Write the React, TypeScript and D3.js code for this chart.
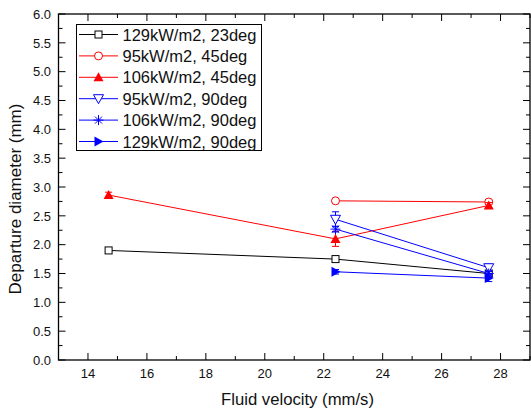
import { useEffect, useRef } from 'react';
import * as d3 from 'd3';

// values
const velocities = [14.7, 22.4, 27.6];
const xTicks = [14, 16, 18, 20, 22, 24, 26, 28];
const yTicks = [0, 0.5, 1, 1.5, 2, 2.5, 3, 3.5, 4, 4.5, 5, 5.5, 6];

const seriesNames = [
  '129kW/m2, 23deg',
  '95kW/m2, 45deg',
  '106kW/m2, 45deg',
  '95kW/m2, 90deg',
  '106kW/m2, 90deg',
  '129kW/m2, 90deg',
];
const seriesColors = ['#000000', '#ff0000', '#ff0000', '#0000ff', '#0000ff', '#0000ff'];
const seriesSymbols = ['square', 'circle', 'triUp', 'triDown', 'star', 'triRight'];

const d129_23 = [1.9, 1.75, 1.5];
const d95_45 = [null, 2.76, 2.74];
const d106_45 = [2.86, 2.1, 2.68];
const d95_90 = [null, 2.44, 1.6];
const d106_90 = [null, 2.27, 1.5];
const d129_90 = [null, 1.53, 1.42];
const seriesValues = [d129_23, d95_45, d106_45, d95_90, d106_90, d129_90];

const e129_23 = [0.03, 0.03, 0.03];
const e95_45 = [0, 0.04, 0.03];
const e106_45 = [0.05, 0.13, 0.05];
const e95_90 = [0, 0.13, 0.06];
const e106_90 = [0, 0.05, 0.04];
const e129_90 = [0, 0.04, 0.06];
const seriesErrors = [e129_23, e95_45, e106_45, e95_90, e106_90, e129_90];

const W = 531;
const H = 411;
const FONT = 'Liberation Sans, Arial, sans-serif';

function drawMarker(g, sym, cx, cy, color) {
  if (sym === 'square') {
    g.append('rect').attr('x', cx - 3.5).attr('y', cy - 3.5).attr('width', 7).attr('height', 7)
      .attr('fill', 'white').attr('stroke', color).attr('stroke-width', 1);
  } else if (sym === 'circle') {
    g.append('circle').attr('cx', cx).attr('cy', cy).attr('r', 4)
      .attr('fill', 'white').attr('stroke', color).attr('stroke-width', 1);
  } else if (sym === 'triUp') {
    g.append('path').attr('d', `M${cx},${cy - 5}L${cx + 5},${cy + 4}L${cx - 5},${cy + 4}Z`).attr('fill', color);
  } else if (sym === 'triDown') {
    g.append('path').attr('d', `M${cx - 5},${cy - 4}L${cx + 5},${cy - 4}L${cx},${cy + 5}Z`)
      .attr('fill', 'white').attr('stroke', color).attr('stroke-width', 1);
  } else if (sym === 'star') {
    const r = 5;
    g.append('path')
      .attr('d', `M${cx - r},${cy}L${cx + r},${cy}M${cx - r * 0.7},${cy - r * 0.7}L${cx + r * 0.7},${cy + r * 0.7}M${cx - r * 0.7},${cy + r * 0.7}L${cx + r * 0.7},${cy - r * 0.7}M${cx},${cy - r}L${cx},${cy + r}`)
      .attr('stroke', color).attr('stroke-width', 1).attr('fill', 'none');
  } else if (sym === 'triRight') {
    g.append('path').attr('d', `M${cx - 4},${cy - 5}L${cx + 5},${cy}L${cx - 4},${cy + 5}Z`).attr('fill', color);
  }
}

export default function App() {
  const svgRef = useRef(null);

  useEffect(() => {
    const svg = d3.select(svgRef.current);
    svg.selectAll('*').remove();

    const x = d3.scaleLinear().domain([13, 29]).range([58.5, 530]);
    const y = d3.scaleLinear().domain([0, 6]).range([360, 14]);

    svg.append('rect').attr('width', W).attr('height', H).attr('fill', 'white');

    const axes = svg.append('g').attr('stroke', 'black').attr('stroke-width', 1);
    // frame
    axes.append('rect').attr('x', x(13)).attr('y', y(6)).attr('width', x(29) - x(13)).attr('height', y(0) - y(6))
      .attr('fill', 'none').attr('stroke-width', 1.3);

    // x ticks (inward, bottom and top)
    d3.range(13, 29.01, 1).forEach((v) => {
      const major = v % 2 === 0;
      const len = major ? 7 : 4;
      axes.append('line').attr('x1', x(v)).attr('x2', x(v)).attr('y1', y(0)).attr('y2', y(0) - len);
      axes.append('line').attr('x1', x(v)).attr('x2', x(v)).attr('y1', y(6)).attr('y2', y(6) + len);
    });
    // y ticks (inward, left and right)
    d3.range(0, 6.01, 0.25).forEach((v) => {
      const major = Math.abs((v * 2) - Math.round(v * 2)) < 1e-6;
      const len = major ? 7 : 4;
      axes.append('line').attr('x1', x(13)).attr('x2', x(13) + len).attr('y1', y(v)).attr('y2', y(v));
      axes.append('line').attr('x1', x(29)).attr('x2', x(29) - len).attr('y1', y(v)).attr('y2', y(v));
    });

    const labels = svg.append('g').attr('font-family', FONT).attr('fill', '#111');
    xTicks.forEach((v) => {
      labels.append('text').attr('x', x(v)).attr('y', 378).attr('text-anchor', 'middle')
        .attr('font-size', 13).text(v);
    });
    yTicks.forEach((v) => {
      labels.append('text').attr('x', 51).attr('y', y(v) + 4.7).attr('text-anchor', 'end')
        .attr('font-size', 13).text(d3.format('.1f')(v));
    });
    labels.append('text').attr('x', 297.5).attr('y', 405).attr('text-anchor', 'middle')
      .attr('font-size', 16.7).text('Fluid velocity (mm/s)');
    labels.append('text').attr('transform', 'translate(21,199) rotate(-90)').attr('text-anchor', 'middle')
      .attr('font-size', 17).text('Departure diameter (mm)');

    // series
    seriesValues.forEach((vals, i) => {
      const pts = velocities.map((v, j) => ({ v, d: vals[j], e: seriesErrors[i][j] })).filter((p) => p.d != null);
      const color = seriesColors[i];
      const g = svg.append('g');
      const line = d3.line().x((p) => x(p.v)).y((p) => y(p.d));
      g.append('path').attr('d', line(pts)).attr('fill', 'none').attr('stroke', color).attr('stroke-width', 1);
      pts.forEach((p) => {
        if (p.e > 0) {
          const cx = x(p.v);
          g.append('line').attr('x1', cx).attr('x2', cx).attr('y1', y(p.d - p.e)).attr('y2', y(p.d + p.e)).attr('stroke', color);
          [p.d - p.e, p.d + p.e].forEach((ev) => {
            g.append('line').attr('x1', cx - 3.5).attr('x2', cx + 3.5).attr('y1', y(ev)).attr('y2', y(ev)).attr('stroke', color);
          });
        }
      });
      pts.forEach((p) => drawMarker(g, seriesSymbols[i], x(p.v), y(p.d), color));
    });

    // legend
    const lg = svg.append('g');
    lg.append('rect').attr('x', 76.5).attr('y', 24.5).attr('width', 185).attr('height', 126)
      .attr('fill', 'white').attr('stroke', 'black').attr('stroke-width', 1);
    seriesNames.forEach((name, i) => {
      const ry = 34.5 + i * 21.4;
      lg.append('line').attr('x1', 79).attr('x2', 118).attr('y1', ry).attr('y2', ry)
        .attr('stroke', seriesColors[i]).attr('stroke-width', 1);
      drawMarker(lg, seriesSymbols[i], 98.5, ry, seriesColors[i]);
      lg.append('text').attr('x', 122.5).attr('y', ry + 6).attr('font-family', FONT).attr('font-size', 16.5)
        .attr('fill', '#111').text(name);
    });
  }, []);

  return (
    <svg ref={svgRef} width={W} height={H} style={{ position: 'absolute', left: 0, top: 0 }} />
  );
}
